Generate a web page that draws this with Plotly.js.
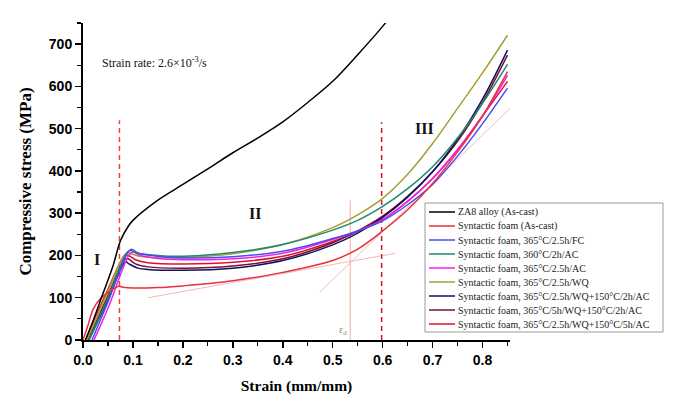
<!DOCTYPE html>
<html>
<head>
<meta charset="utf-8">
<script src="https://cdn.plot.ly/plotly-3.0.1.min.js"></script>
<style>
  html, body { margin: 0; padding: 0; background: #fff; }
  #chart { width: 673px; height: 400px; }
</style>
</head>
<body>
<div id="chart"></div>
<script>
'use strict';

// series names and colours (legend order)
var seriesNames = [
	'ZA8 alloy (As-cast)',
	'Syntactic foam (As-cast)',
	'Syntactic foam, 365°C/2.5h/FC',
	'Syntactic foam, 360°C/2h/AC',
	'Syntactic foam, 365°C/2.5h/AC',
	'Syntactic foam, 365°C/2.5h/WQ',
	'Syntactic foam, 365°C/2.5h/WQ+150°C/2h/AC',
	'Syntactic foam, 365°C/5h/WQ+150°C/2h/AC',
	'Syntactic foam, 365°C/2.5h/WQ+150°C/5h/AC'
];
var seriesColors = ['#000000', '#e8303a', '#4a4cf0', '#1f8a70', '#f020e8', '#a3a035', '#101060', '#7a1030', '#e0102e'];

// stress-strain curves
var za8Strain = [0.005, 0.02, 0.04, 0.06, 0.075, 0.09, 0.1, 0.15, 0.2, 0.25, 0.3, 0.35, 0.4, 0.45, 0.5, 0.55, 0.6, 0.61];
var za8Stress = [0, 45, 110, 175, 235, 268, 283, 331, 368, 405, 443, 478, 516, 562, 612, 675, 742, 757];

var asCastStrain = [0, 0.01, 0.02, 0.035, 0.055, 0.072, 0.08, 0.1, 0.15, 0.2, 0.3, 0.4, 0.5, 0.55, 0.6, 0.65, 0.7, 0.75, 0.8, 0.85];
var asCastStress = [0, 35, 72, 98, 117, 127, 125, 123, 124, 128, 140, 160, 188, 215, 258, 308, 370, 445, 530, 635];

var fcStrain = [0.018, 0.05, 0.09, 0.097, 0.11, 0.15, 0.2, 0.3, 0.4, 0.5, 0.55, 0.6, 0.65, 0.7, 0.75, 0.8, 0.85];
var fcStress = [0, 90, 208, 215, 206, 198, 194, 197, 210, 240, 258, 282, 320, 368, 435, 512, 596];

var ac360Strain = [0.012, 0.05, 0.088, 0.095, 0.11, 0.15, 0.2, 0.3, 0.4, 0.5, 0.55, 0.6, 0.65, 0.7, 0.75, 0.8, 0.85];
var ac360Stress = [0, 100, 207, 212, 205, 200, 198, 207, 226, 260, 283, 316, 358, 410, 478, 560, 652];

var ac365Strain = [0.022, 0.05, 0.093, 0.1, 0.115, 0.15, 0.2, 0.3, 0.4, 0.5, 0.55, 0.6, 0.65, 0.7, 0.75, 0.8, 0.85];
var ac365Stress = [0, 75, 203, 208, 200, 193, 190, 192, 205, 238, 258, 285, 328, 382, 450, 530, 626];

var wqStrain = [0.008, 0.05, 0.082, 0.09, 0.11, 0.15, 0.2, 0.3, 0.4, 0.5, 0.55, 0.6, 0.65, 0.7, 0.75, 0.8, 0.85];
var wqStress = [0, 115, 200, 206, 199, 195, 195, 204, 226, 266, 296, 335, 392, 465, 548, 632, 721];

var wq2hStrain = [0.012, 0.05, 0.085, 0.092, 0.11, 0.13, 0.2, 0.3, 0.4, 0.5, 0.55, 0.6, 0.65, 0.7, 0.75, 0.8, 0.85];
var wq2hStress = [0, 95, 185, 180, 170, 167, 165, 170, 188, 225, 253, 290, 338, 398, 475, 570, 686];

var wq5h2hStrain = [0.01, 0.05, 0.083, 0.09, 0.105, 0.13, 0.2, 0.3, 0.4, 0.5, 0.55, 0.6, 0.65, 0.7, 0.75, 0.8, 0.85];
var wq5h2hStress = [0, 105, 190, 192, 180, 173, 170, 175, 192, 230, 258, 293, 340, 398, 470, 562, 674];

var wq5hStrain = [0.005, 0.05, 0.082, 0.09, 0.105, 0.13, 0.2, 0.3, 0.4, 0.5, 0.55, 0.6, 0.65, 0.7, 0.75, 0.8, 0.85];
var wq5hStress = [0, 120, 197, 200, 190, 183, 180, 184, 198, 233, 257, 285, 328, 382, 450, 530, 612];

// region boundaries (dashed) and densification construction lines
var regionStrain = [0.073, 0.598];
var regionTop = [520, 515];
var plateauTangentStrain = [0.13, 0.625];
var plateauTangentStress = [100, 205];
var densTangentStrain = [0.474, 0.855];
var densTangentStress = [113, 548];
var edStrain = 0.535;
var edTop = 330;

var curveStrain = [za8Strain, asCastStrain, fcStrain, ac360Strain, ac365Strain, wqStrain, wq2hStrain, wq5h2hStrain, wq5hStrain];
var curveStress = [za8Stress, asCastStress, fcStress, ac360Stress, ac365Stress, wqStress, wq2hStress, wq5h2hStress, wq5hStress];

var createStressChart = function () {
	var serif = 'Liberation Serif, Times New Roman, serif';
	var traces = [];

	// construction lines first so curves sit on top
	traces.push({
		x: plateauTangentStrain, y: plateauTangentStress, mode: 'lines',
		line: { color: '#f2b9b9', width: 1 }, hoverinfo: 'none', showlegend: false
	});
	traces.push({
		x: densTangentStrain, y: densTangentStress, mode: 'lines',
		line: { color: '#f2b9b9', width: 1 }, hoverinfo: 'none', showlegend: false
	});
	traces.push({
		x: [edStrain, edStrain], y: [0, edTop], mode: 'lines',
		line: { color: '#f3a8a0', width: 1 }, hoverinfo: 'none', showlegend: false
	});
	regionStrain.forEach(function (s, i) {
		traces.push({
			x: [s, s], y: [0, regionTop[i]], mode: 'lines',
			line: { color: i === 0 ? '#ff3a3a' : '#e0102a', width: 1.5, dash: '5px,4px' },
			hoverinfo: 'none', showlegend: false
		});
	});

	// draw foams first, alloy on top
	for (var i = curveStrain.length - 1; i >= 0; i--) {
		traces.push({
			x: curveStrain[i], y: curveStress[i], mode: 'lines', name: seriesNames[i],
			line: { color: seriesColors[i], width: 1.5, shape: 'spline' },
			hoverinfo: 'none', showlegend: false
		});
	}

	// hand-made legend (plotly legend rows are too tall for this box)
	var px = function (v) { return (v - 83) / 427; };
	var py = function (v) { return (340 - v) / 317; };
	var shapes = [{
		type: 'rect', xref: 'paper', yref: 'paper',
		x0: px(425), x1: px(663), y0: py(332), y1: py(203),
		line: { color: '#9a9a9a', width: 1 }, fillcolor: 'rgba(255,255,255,0.95)', layer: 'above'
	}];
	var annotations = [];
	seriesNames.forEach(function (name, i) {
		var rowY = 212 + i * 14;
		shapes.push({
			type: 'line', xref: 'paper', yref: 'paper',
			x0: px(429), x1: px(455), y0: py(rowY), y1: py(rowY),
			line: { color: seriesColors[i], width: 1.5 }, layer: 'above'
		});
		annotations.push({
			xref: 'paper', yref: 'paper', x: px(456), y: py(rowY),
			xanchor: 'left', yanchor: 'middle', showarrow: false,
			text: name, font: { family: serif, size: 10, color: '#222' }
		});
	});

	// text labels on the plot
	annotations.push({
		x: 0.034, y: 657, xanchor: 'left', yanchor: 'middle', showarrow: false,
		text: 'Strain rate: 2.6×10<sup>-3</sup>/s', font: { family: serif, size: 12, color: '#111' }
	});
	annotations.push({ x: 0.028, y: 190, showarrow: false, text: '<b>I</b>', font: { family: serif, size: 16, color: '#111' } });
	annotations.push({ x: 0.344, y: 300, showarrow: false, text: '<b>II</b>', font: { family: serif, size: 16, color: '#111' } });
	annotations.push({ x: 0.684, y: 501, showarrow: false, text: '<b>III</b>', font: { family: serif, size: 16, color: '#111' } });
	annotations.push({ x: 0.521, y: 22, showarrow: false, text: 'ε<sub>d</sub>', font: { family: serif, size: 10, color: '#888' } });

	var layout = {
		width: 673,
		height: 400,
		margin: { l: 83, r: 163, t: 23, b: 60, pad: 0 },
		paper_bgcolor: '#ffffff',
		plot_bgcolor: '#ffffff',
		showlegend: false,
		xaxis: {
			range: [0, 0.855],
			dtick: 0.1,
			tick0: 0,
			tickformat: '.1f',
			showgrid: false,
			zeroline: false,
			showline: true,
			linecolor: '#000',
			linewidth: 2,
			ticks: 'outside',
			ticklen: 6,
			tickwidth: 1.5,
			tickcolor: '#000',
			minor: { dtick: 0.05, ticks: 'outside', ticklen: 4, tickwidth: 1.2, tickcolor: '#000', showgrid: false },
			tickfont: { family: 'Liberation Sans, Arial, sans-serif', size: 14, weight: 'bold', color: '#000' },
			title: { text: 'Strain (mm/mm)', standoff: 13, font: { family: serif, size: 15.5, weight: 'bold', color: '#000' } }
		},
		yaxis: {
			range: [0, 750],
			dtick: 100,
			showgrid: false,
			zeroline: false,
			showline: true,
			linecolor: '#000',
			linewidth: 2,
			ticks: 'outside',
			ticklen: 6,
			tickwidth: 1.5,
			tickcolor: '#000',
			minor: { dtick: 50, ticks: 'outside', ticklen: 4, tickwidth: 1.2, tickcolor: '#000', showgrid: false },
			tickfont: { family: 'Liberation Sans, Arial, sans-serif', size: 14, weight: 'bold', color: '#000' },
			title: { text: 'Compressive stress (MPa)', standoff: 13, font: { family: serif, size: 17, weight: 'bold', color: '#000' } }
		},
		shapes: shapes,
		annotations: annotations
	};

	Plotly.newPlot('chart', traces, layout, { displayModeBar: false, staticPlot: true });
};

document.addEventListener('DOMContentLoaded', createStressChart);
</script>
</body>
</html>
